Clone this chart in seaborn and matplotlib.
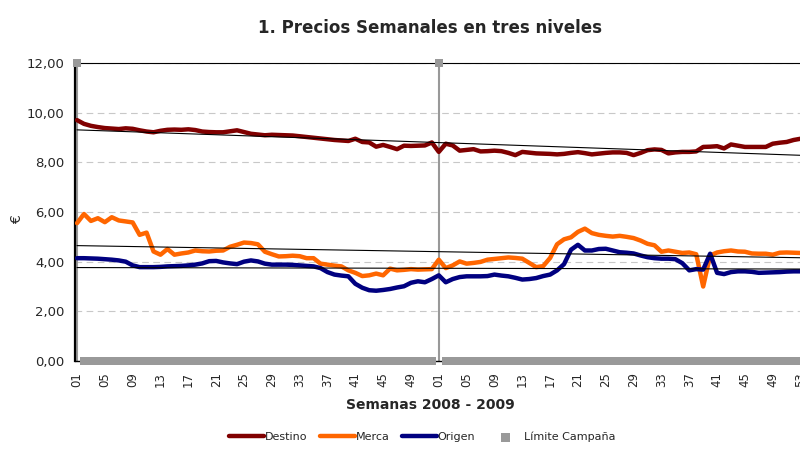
import numpy as np
import matplotlib
matplotlib.use("Agg")
import matplotlib.pyplot as plt
from matplotlib.ticker import FuncFormatter
import seaborn as sns

# semanas 2008 (52) + 2009 (53)
week_labels = [f"{w:02d}" for w in range(1, 53)] + [f"{w:02d}" for w in range(1, 54)]

destino = [9.70, 9.55, 9.47, 9.42, 9.38, 9.36, 9.34, 9.37, 9.35, 9.29,
           9.24, 9.21, 9.27, 9.31, 9.32, 9.31, 9.33, 9.30, 9.24, 9.22,
           9.21, 9.21, 9.25, 9.29, 9.22, 9.15, 9.12, 9.09, 9.11, 9.10,
           9.09, 9.08, 9.05, 9.02, 8.99, 8.96, 8.93, 8.90, 8.88, 8.86,
           8.95, 8.82, 8.80, 8.63, 8.70, 8.62, 8.53, 8.67, 8.66, 8.67,
           8.68, 8.80, 8.42, 8.75, 8.68, 8.47, 8.50, 8.53, 8.44, 8.45,
           8.47, 8.45, 8.38, 8.29, 8.42, 8.39, 8.36, 8.35, 8.34, 8.32,
           8.34, 8.38, 8.41, 8.37, 8.32, 8.35, 8.38, 8.40, 8.40, 8.38,
           8.29, 8.38, 8.49, 8.52, 8.50, 8.36, 8.40, 8.42, 8.42, 8.44,
           8.62, 8.63, 8.65, 8.56, 8.72, 8.67, 8.62, 8.62, 8.62, 8.62,
           8.75, 8.79, 8.82, 8.90, 8.95]

merca = [5.55, 5.92, 5.64, 5.75, 5.59, 5.79, 5.66, 5.62, 5.58, 5.08,
         5.17, 4.41, 4.28, 4.51, 4.28, 4.33, 4.37, 4.45, 4.42, 4.41,
         4.44, 4.45, 4.60, 4.68, 4.77, 4.75, 4.70, 4.40, 4.30, 4.21,
         4.22, 4.24, 4.22, 4.14, 4.14, 3.92, 3.88, 3.84, 3.81, 3.65,
         3.55, 3.42, 3.45, 3.52, 3.45, 3.72, 3.65, 3.67, 3.70, 3.68,
         3.69, 3.70, 4.08, 3.74, 3.85, 4.01, 3.92, 3.95, 3.99, 4.08,
         4.11, 4.14, 4.17, 4.15, 4.12, 3.95, 3.78, 3.82, 4.15, 4.70,
         4.90, 4.98, 5.20, 5.33, 5.15, 5.08, 5.04, 5.01, 5.04, 5.00,
         4.95, 4.85, 4.72, 4.66, 4.40, 4.45, 4.40, 4.35, 4.37, 4.30,
         3.00, 4.25, 4.37, 4.42, 4.45, 4.41, 4.40, 4.33, 4.32, 4.32,
         4.28, 4.36, 4.37, 4.36, 4.35]

origen = [4.14, 4.14, 4.13, 4.12, 4.10, 4.08, 4.05, 4.00, 3.85, 3.78,
          3.78, 3.78, 3.79, 3.81, 3.82, 3.83, 3.85, 3.88, 3.93, 4.02,
          4.03, 3.97, 3.93, 3.90, 4.00, 4.05, 4.01, 3.92, 3.88, 3.88,
          3.88, 3.87, 3.85, 3.83, 3.81, 3.74, 3.58, 3.48, 3.44, 3.41,
          3.11, 2.95, 2.85, 2.83, 2.86, 2.90, 2.96, 3.01, 3.15, 3.21,
          3.17, 3.30, 3.45, 3.17, 3.30, 3.38, 3.41, 3.41, 3.41, 3.42,
          3.48, 3.44, 3.41, 3.35, 3.28, 3.30, 3.34, 3.42, 3.48, 3.65,
          3.90, 4.48, 4.68, 4.45, 4.45, 4.51, 4.52, 4.45, 4.38, 4.36,
          4.33, 4.25, 4.18, 4.14, 4.12, 4.12, 4.10, 3.94, 3.65, 3.70,
          3.68, 4.32, 3.55, 3.50, 3.58, 3.61, 3.61, 3.59, 3.55, 3.56,
          3.57, 3.58, 3.60, 3.61, 3.61]

# limite de campaña: 12 en la semana 01 de cada año, 0 el resto
limite = [12 if w == "01" else 0 for w in week_labels]

series = [("Destino", destino, "#800000"),
          ("Merca", merca, "#FF6600"),
          ("Origen", origen, "#000080")]

sns.set_style("white")
plt.rcParams["font.family"] = ["DejaVu Sans"]

idx = np.arange(len(week_labels))

fig = plt.figure(figsize=(8, 4.59), dpi=100)
ax = fig.add_axes([74.5 / 800, 98 / 459, 740 / 800, 298 / 459])

for name, vals, col in series:
    sns.lineplot(x=idx, y=vals, ax=ax, color=col, lw=3.2, label=name,
                 solid_capstyle="round", zorder=3)

# lineas de tendencia
for name, vals, col in series:
    sns.regplot(x=idx, y=np.array(vals), ax=ax, scatter=False, ci=None,
                color="black", line_kws=dict(lw=0.8, zorder=4))

lim = np.array(limite)
ax.vlines(idx[lim > 0], 0, lim[lim > 0], color="#999999", lw=1.5, zorder=2)
sns.scatterplot(x=idx, y=lim, ax=ax, marker="s", s=36, color="#999999",
                edgecolor="none", clip_on=False, label="Límite Campaña", zorder=5)

ax.set_xlim(-0.36, 106)
ax.set_ylim(0, 12)
ax.set_yticks(np.arange(0, 13, 2))
ax.yaxis.set_major_formatter(FuncFormatter(lambda v, p: f"{v:.2f}".replace(".", ",")))
ax.set_xticks(idx[::4])
ax.set_xticklabels(week_labels[::4], rotation=90)
ax.tick_params(axis="y", length=4, width=1, color="black", labelsize=9.5, pad=3)
ax.tick_params(axis="x", length=0, labelsize=8.5, pad=8)
ax.yaxis.grid(True, ls=(0, (6, 4)), color="#c8c8c8", lw=0.8)
ax.set_axisbelow(True)

ax.spines["left"].set(lw=1.6, color="black")
ax.spines["top"].set(lw=0.8, color="black")
ax.spines["bottom"].set(lw=1, color="black")
ax.spines["right"].set_visible(False)

ax.set_xlabel("")
ax.set_ylabel("")
fig.text(17 / 800, 1 - 220 / 459, "€", rotation=90, ha="center", va="center", fontsize=10)
fig.text(430 / 800, 1 - 28 / 459, "1. Precios Semanales en tres niveles",
         ha="center", va="center", fontsize=12, fontweight="bold")
fig.text(430 / 800, 1 - 405 / 459, "Semanas 2008 - 2009",
         ha="center", va="center", fontsize=10, fontweight="bold")

handles, labels = ax.get_legend_handles_labels()
ax.get_legend().remove()
fig.legend(handles, labels, loc="center", bbox_to_anchor=(422 / 800, 1 - 437 / 459),
           ncol=4, frameon=False, fontsize=8, handlelength=3.2,
           handletextpad=0.05, columnspacing=1.1)

fig.savefig("out.png", dpi=100)
